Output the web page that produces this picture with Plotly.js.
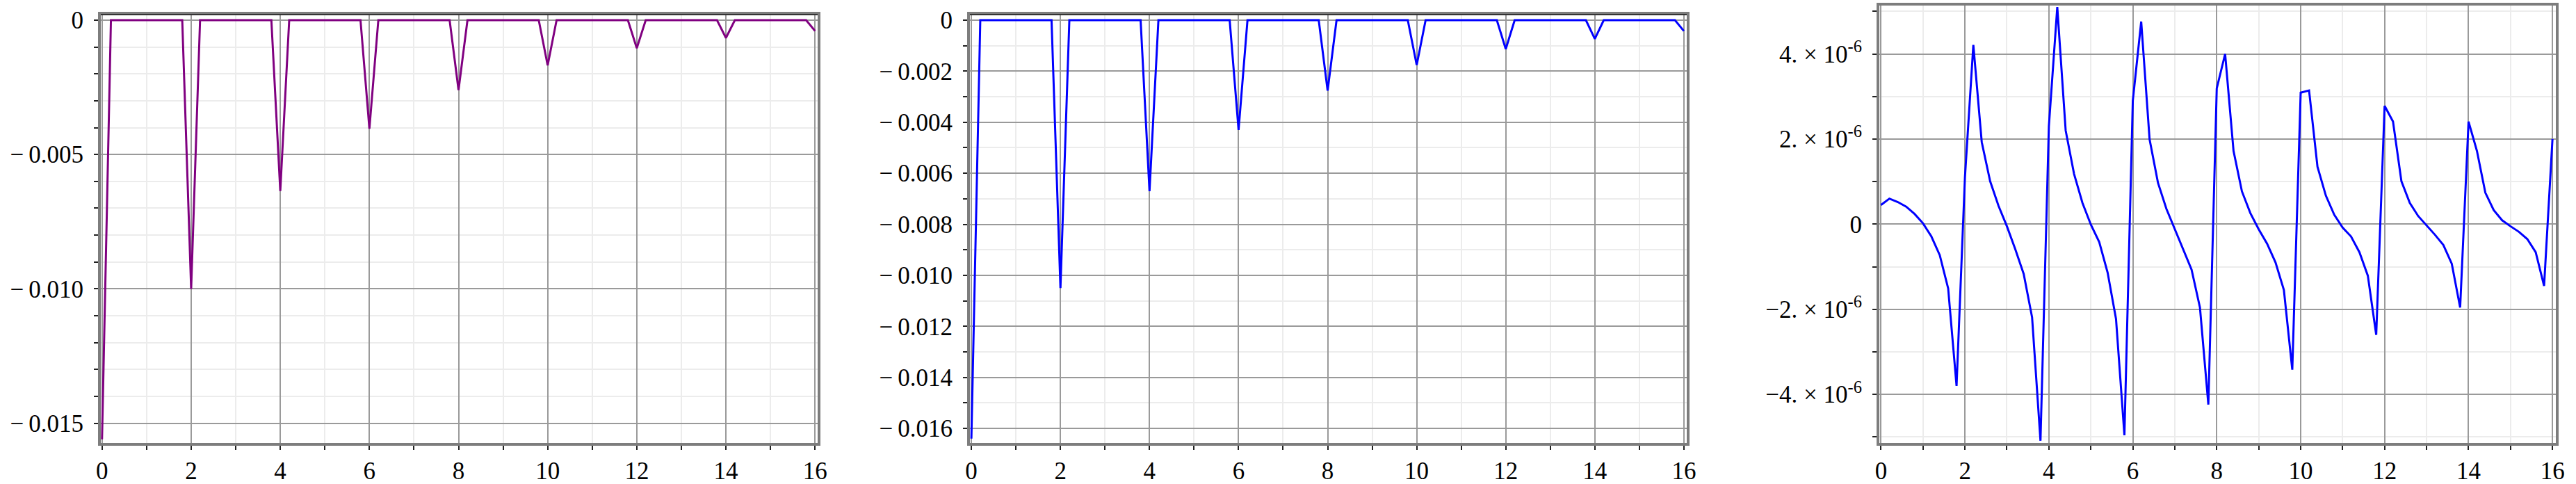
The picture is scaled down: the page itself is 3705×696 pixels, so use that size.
<!DOCTYPE html>
<html>
<head>
<meta charset="utf-8">
<script src="https://cdn.plot.ly/plotly-3.0.1.min.js"></script>
<style>
  html, body { margin: 0; padding: 0; background: #fff; }
  #chart { width: 3705px; height: 696px; }
</style>
</head>
<body>
<div id="chart"></div>
<script>
// --- Data (sampled every 0.2 on [0, 16]) ---
const xs = [
  0, 0.2, 0.4, 0.6, 0.8, 1, 1.2, 1.4, 1.6, 1.8,
  2, 2.2, 2.4, 2.6, 2.8, 3, 3.2, 3.4, 3.6, 3.8,
  4, 4.2, 4.4, 4.6, 4.8, 5, 5.2, 5.4, 5.6, 5.8,
  6, 6.2, 6.4, 6.6, 6.8, 7, 7.2, 7.4, 7.6, 7.8,
  8, 8.2, 8.4, 8.6, 8.8, 9, 9.2, 9.4, 9.6, 9.8,
  10, 10.2, 10.4, 10.6, 10.8, 11, 11.2, 11.4, 11.6, 11.8,
  12, 12.2, 12.4, 12.6, 12.8, 13, 13.2, 13.4, 13.6, 13.8,
  14, 14.2, 14.4, 14.6, 14.8, 15, 15.2, 15.4, 15.6, 15.8,
  16
];

// left panel (purple)
const leftVals = [
  -0.0156, 0, 0, 0, 0, 0, 0, 0, 0, 0,
  -0.0100, 0, 0, 0, 0, 0, 0, 0, 0, 0,
  -0.00636, 0, 0, 0, 0, 0, 0, 0, 0, 0,
  -0.00404, 0, 0, 0, 0, 0, 0, 0, 0, 0,
  -0.0026, 0, 0, 0, 0, 0, 0, 0, 0, 0,
  -0.00168, 0, 0, 0, 0, 0, 0, 0, 0, 0,
  -0.00104, 0, 0, 0, 0, 0, 0, 0, 0, 0,
  -0.00066, 0, 0, 0, 0, 0, 0, 0, 0, 0,
  -0.0004
];

// middle panel (blue)
const midVals = [
  -0.0164, 0, 0, 0, 0, 0, 0, 0, 0, 0,
  -0.0105, 0, 0, 0, 0, 0, 0, 0, 0, 0,
  -0.0067, 0, 0, 0, 0, 0, 0, 0, 0, 0,
  -0.0043, 0, 0, 0, 0, 0, 0, 0, 0, 0,
  -0.00276, 0, 0, 0, 0, 0, 0, 0, 0, 0,
  -0.00176, 0, 0, 0, 0, 0, 0, 0, 0, 0,
  -0.00113, 0, 0, 0, 0, 0, 0, 0, 0, 0,
  -0.00073, 0, 0, 0, 0, 0, 0, 0, 0, 0,
  -0.000425
];

// right panel (blue), in units of 1e-6
const rightMicro = [
  0.45, 0.60, 0.52, 0.41, 0.24, 0.02, -0.29, -0.73, -1.51, -3.80,
  1.10, 4.21, 1.93, 1.01, 0.43, -0.05, -0.59, -1.17, -2.19, -5.09,
  2.30, 5.10, 2.20, 1.18, 0.50, -0.01, -0.42, -1.14, -2.23, -4.96,
  2.90, 4.76, 1.99, 0.97, 0.36, -0.12, -0.59, -1.07, -1.96, -4.24,
  3.19, 4.00, 1.72, 0.77, 0.26, -0.12, -0.46, -0.90, -1.55, -3.42,
  3.09, 3.14, 1.35, 0.67, 0.22, -0.08, -0.29, -0.66, -1.21, -2.60,
  2.78, 2.41, 1.01, 0.50, 0.19, -0.03, -0.25, -0.49, -0.93, -1.96,
  2.41, 1.72, 0.74, 0.33, 0.09, -0.05, -0.18, -0.35, -0.66, -1.45,
  2.00
];
const rightVals = rightMicro.map(v => v * 1e-6);

// tick labels (Maple-style minus with a small gap)
const M = '\u2212\u2009';
const xTickVals = [0, 2, 4, 6, 8, 10, 12, 14, 16];
const leftTickVals = [0, -0.005, -0.010, -0.015];
const leftTickText = ['0', M + '0.005', M + '0.010', M + '0.015'];
const midTickVals = [0, -0.002, -0.004, -0.006, -0.008, -0.010, -0.012, -0.014, -0.016];
const midTickText = ['0', M + '0.002', M + '0.004', M + '0.006', M + '0.008',
  M + '0.010', M + '0.012', M + '0.014', M + '0.016'];
const rightTickVals = [4e-6, 2e-6, 0, -2e-6, -4e-6];
const rightTickText = ['4. \u00d7 10<sup>-6</sup>', '2. \u00d7 10<sup>-6</sup>', '0',
  '\u22122. \u00d7 10<sup>-6</sup>', '\u22124. \u00d7 10<sup>-6</sup>'];

// --- Styling helpers ---
const W = 3705, H = 696;
const px = v => v / W;
const py = v => 1 - v / H;

const font = { family: '"Liberation Serif", "DejaVu Serif", serif', size: 35, color: '#000' };

function xAxis(left, right, range) {
  return {
    domain: [px(left), px(right)],
    range: range,
    tickmode: 'array',
    tickvals: xTickVals,
    ticks: 'outside', ticklen: 6, tickwidth: 2, tickcolor: '#222',
    showgrid: true, gridcolor: '#9a9a9a', gridwidth: 2,
    minor: { tickmode: 'linear', tick0: 0, dtick: 1, ticks: 'outside', ticklen: 6,
             tickwidth: 2, tickcolor: '#222', showgrid: true, gridcolor: '#ececec', gridwidth: 2 },
    showline: true, linecolor: '#7d7d7d', linewidth: 4, mirror: true,
    zeroline: false, tickfont: font, fixedrange: true
  };
}

function yAxis(top, bottom, range, vals, text, minorStep) {
  return {
    domain: [py(bottom), py(top)],
    range: range,
    tickmode: 'array',
    tickvals: vals, ticktext: text,
    ticks: 'outside', ticklen: 6, tickwidth: 2, tickcolor: '#222',
    showgrid: true, gridcolor: '#9a9a9a', gridwidth: 2,
    minor: { tickmode: 'linear', tick0: 0, dtick: minorStep, ticks: 'outside', ticklen: 6,
             tickwidth: 2, tickcolor: '#222', showgrid: true, gridcolor: '#ececec', gridwidth: 2 },
    showline: true, linecolor: '#7d7d7d', linewidth: 4, mirror: true,
    zeroline: false, tickfont: font, ticklabelstandoff: 8, fixedrange: true
  };
}

const traces = [
  { x: xs, y: leftVals, xaxis: 'x', yaxis: 'y', type: 'scatter', mode: 'lines',
    line: { color: '#800080', width: 3 }, hoverinfo: 'skip' },
  { x: xs, y: midVals, xaxis: 'x2', yaxis: 'y2', type: 'scatter', mode: 'lines',
    line: { color: '#0000ff', width: 3 }, hoverinfo: 'skip' },
  { x: xs, y: rightVals, xaxis: 'x3', yaxis: 'y3', type: 'scatter', mode: 'lines',
    line: { color: '#0000ff', width: 3 }, hoverinfo: 'skip' }
];

const topLine = (xr, yr, color) => ({
  type: 'line', xref: xr + ' domain', yref: yr + ' domain',
  x0: 0, x1: 1, y0: 1, y1: 1, line: { color: color, width: 2 }, layer: 'above'
});

const layout = {
  width: W, height: H,
  margin: { l: 0, r: 0, t: 0, b: 0 },
  paper_bgcolor: '#fff', plot_bgcolor: '#fff',
  showlegend: false,
  font: font,
  xaxis: xAxis(145, 1176, [-0.027, 16.058]),
  yaxis: yAxis(21, 637, [-0.015735, 0.000207], leftTickVals, leftTickText, 0.001),
  xaxis2: xAxis(1395, 2426, [-0.033, 16.064]),
  yaxis2: yAxis(21, 637, [-0.016572, 0.000218], midTickVals, midTickText, 0.001),
  xaxis3: xAxis(2703, 3676, [-0.04, 16.08]),
  yaxis3: yAxis(8, 637, [-5.142e-6, 5.136e-6], rightTickVals, rightTickText, 1e-6),
  shapes: [topLine('x', 'y', '#333'), topLine('x2', 'y2', '#333')]
};

layout.xaxis.anchor = 'y';
layout.yaxis.anchor = 'x';
layout.xaxis2.anchor = 'y2';
layout.yaxis2.anchor = 'x2';
layout.xaxis3.anchor = 'y3';
layout.yaxis3.anchor = 'x3';

Plotly.newPlot('chart', traces, layout, { displayModeBar: false, staticPlot: true });
</script>
</body>
</html>
